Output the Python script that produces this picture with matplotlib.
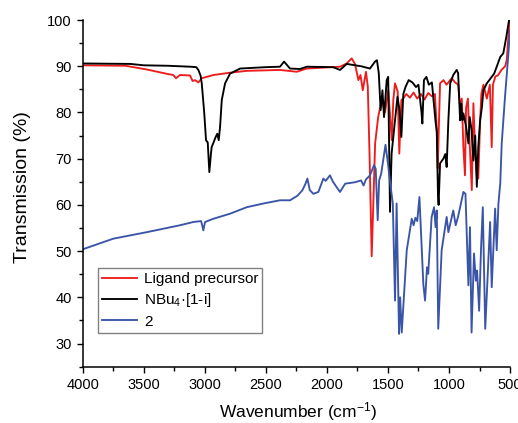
import matplotlib
matplotlib.use("Agg")
import matplotlib.pyplot as plt
from matplotlib.ticker import MultipleLocator

plt.rcParams['font.family'] = ['Liberation Sans', 'DejaVu Sans']
plt.rcParams['mathtext.default'] = 'regular'

# Ligand precursor
wn_red = [4000, 3650, 3476, 3300, 3258, 3236, 3203, 3121, 3100, 3080, 3053, 3025, 2930, 2793, 2657,
          2384, 2247, 2165, 1892, 1838, 1797, 1770, 1742, 1725, 1706, 1680, 1665, 1650, 1633, 1620,
          1605, 1580, 1551, 1524, 1497, 1469, 1456, 1442, 1420, 1407, 1390, 1375, 1350, 1320, 1290,
          1260, 1230, 1200, 1170, 1140, 1115, 1100, 1092, 1085, 1073, 1045, 1020, 978, 950, 925,
          909, 895, 882, 869, 860, 845, 835, 813, 800, 785, 772, 760, 745, 735, 718, 690, 665, 650,
          640, 620, 600, 570, 540, 527, 515, 505]
tr_red = [90.2, 90.1, 89.3, 88.3, 88.1, 87.4, 88.1, 88.0, 86.8, 87.0, 86.5, 87.4, 88.1, 88.6, 89.0,
          89.2, 88.8, 89.5, 89.9, 90.6, 91.7, 90.5, 87.0, 88.1, 84.8, 88.8, 85.6, 70.0, 48.9, 60.0,
          73.3, 79.0, 82.7, 80.0, 84.8, 74.0, 82.7, 86.3, 84.5, 71.1, 82.7, 83.0, 84.0, 83.2, 84.3,
          83.0, 84.0, 82.8, 84.2, 83.5, 84.0, 76.5, 67.9, 75.0, 86.3, 87.0, 86.0, 87.4, 86.5, 86.0,
          81.2, 83.0, 72.5, 66.4, 81.0, 83.0, 75.8, 63.2, 82.0, 71.1, 66.0, 65.7, 78.0, 84.0, 86.0,
          83.0, 86.0, 72.5, 86.0, 87.8, 88.0, 89.2, 90.0, 91.3, 95.7, 100.0]

# NBu4·[1-i]
wn_blk = [4000, 3610, 3500, 3300, 3121, 3070, 3053, 3035, 3025, 3005, 2990, 2976, 2963, 2950, 2944,
          2930, 2911, 2898, 2886, 2875, 2861, 2834, 2793, 2711, 2500, 2384, 2351, 2302, 2220, 2165,
          1950, 1892, 1838, 1720, 1647, 1606, 1590, 1575, 1560, 1545, 1532, 1510, 1498, 1483, 1470,
          1442, 1422, 1405, 1390, 1374, 1355, 1330, 1300, 1270, 1250, 1225, 1218, 1205, 1185, 1165,
          1140, 1110, 1100, 1090, 1085, 1073, 1046, 1030, 1019, 1005, 990, 965, 937, 925, 909, 900,
          890, 882, 860, 841, 830, 815, 800, 785, 772, 760, 745, 730, 718, 690, 650, 630, 609, 580,
          555, 530, 508]
tr_blk = [90.6, 90.5, 90.2, 90.1, 89.9, 89.8, 89.2, 88.0, 86.3, 80.0, 74.0, 73.5, 67.1, 71.0, 72.5,
          73.4, 74.7, 75.4, 74.0, 76.9, 82.7, 86.3, 88.4, 89.5, 89.8, 89.9, 91.0, 89.5, 89.4, 89.9,
          89.8, 89.2, 90.5, 90.0, 89.5, 91.0, 91.3, 88.5, 80.5, 84.8, 79.0, 87.0, 87.7, 58.5, 71.1,
          78.3, 83.4, 80.5, 74.7, 84.0, 85.6, 87.0, 86.5, 85.5, 86.0, 80.0, 77.6, 87.0, 87.7, 86.0,
          86.5, 78.0, 75.8, 62.0, 60.0, 69.0, 70.0, 71.0, 68.2, 78.3, 86.3, 88.1, 89.2, 88.5, 78.3, 81.9,
          78.3, 79.8, 77.0, 73.3, 79.0, 76.2, 69.6, 75.0, 63.9, 72.5, 78.3, 81.2, 84.8, 86.3, 87.7, 88.4, 89.9, 92.0,
          92.8, 96.4, 100.0]

# 2
wn_blu = [4000, 3749, 3476, 3203, 3094, 3030, 3012, 2998, 2930, 2793, 2657, 2521, 2384, 2302, 2240,
          2200, 2175, 2160, 2140, 2111, 2070, 2029, 2010, 1975, 1950, 1893, 1850, 1770, 1720, 1700,
          1680, 1647, 1614, 1600, 1584, 1572, 1555, 1520, 1500, 1483, 1460, 1442, 1429, 1409, 1400,
          1387, 1346, 1305, 1290, 1275, 1260, 1242, 1210, 1196, 1180, 1170, 1142, 1122, 1110, 1100,
          1088, 1060, 1019, 1005, 965, 945, 925, 882, 865, 841, 828, 815, 795, 780, 770, 753, 738,
          723, 703, 663, 650, 622, 609, 595, 580, 568, 541, 513, 500]
tr_blu = [50.4, 52.7, 54.1, 55.6, 56.3, 56.5, 54.5, 56.3, 57.0, 58.1, 59.5, 60.3, 61.0, 61.0, 62.0,
          63.2, 64.6, 65.7, 63.2, 62.4, 62.8, 65.7, 65.2, 66.4, 65.0, 62.8, 64.6, 64.9, 65.3, 64.2,
          65.5, 66.4, 68.6, 67.8, 56.7, 65.3, 66.8, 73.0, 69.0, 65.0, 60.3, 39.3, 60.3, 32.1, 40.0,
          32.4, 50.2, 57.0, 55.6, 57.2, 56.5, 61.7, 42.8, 39.3, 46.5, 45.1, 57.4, 59.5, 55.2, 58.8,
          33.2, 50.2, 57.4, 54.1, 58.8, 55.6, 57.5, 62.8, 62.4, 42.6, 55.2, 32.4, 49.5, 43.6, 45.8, 37.1, 50.2,
          59.5, 33.2, 56.3, 42.2, 59.2, 50.2, 60.3, 64.6, 73.3, 83.4, 92.8, 97.8]

series_labels = ['Ligand precursor', 'NBu$_4$·[1-i]', '2']
x_ticks = [4000, 3500, 3000, 2500, 2000, 1500, 1000, 500]
y_ticks = [30, 40, 50, 60, 70, 80, 90, 100]

fig = plt.figure(figsize=(5.18, 4.23), dpi=100)
ax = fig.add_axes([0.1597, 0.1331, 0.8249, 0.8196])

ax.plot(wn_red, tr_red, color='#ee1c1c', lw=1.35, label=series_labels[0])
ax.plot(wn_blk, tr_blk, color='black', lw=1.35, label=series_labels[1])
ax.plot(wn_blu, tr_blu, color='#3a55a8', lw=1.35, label=series_labels[2])

ax.set_xlim(4000, 500)
ax.set_ylim(25, 100)
ax.set_xticks(x_ticks)
ax.set_xticklabels([str(t) for t in x_ticks])
ax.set_yticks(y_ticks)
ax.xaxis.set_minor_locator(MultipleLocator(250))
ax.yaxis.set_minor_locator(MultipleLocator(5))
ax.tick_params(which='major', direction='out', length=4.3, width=1, labelsize=10.5, pad=3.5)
ax.tick_params(which='minor', direction='out', length=2.7, width=1)

for s in ['top', 'right']:
    ax.spines[s].set_visible(False)
for s in ['left', 'bottom']:
    ax.spines[s].set_linewidth(1.1)

ax.set_xlabel('Wavenumber (cm$^{-1}$)', fontsize=12.5)
ax.set_ylabel('Transmission (%)', fontsize=14)
ax.xaxis.label.set_va('center')
ax.yaxis.label.set_va('center')
ax.xaxis.set_label_coords(0.503, -0.129)
ax.yaxis.set_label_coords(-0.142, 0.518)

leg = ax.legend(loc='upper left', bbox_to_anchor=(0.0365, 0.284), borderaxespad=0,
                fontsize=11, frameon=True, fancybox=False, framealpha=1,
                edgecolor='#808080', handlelength=2.3, handletextpad=0.45,
                borderpad=0.25, labelspacing=0.35)
leg.get_frame().set_linewidth(1.0)

fig.savefig('out.png', dpi=100)
